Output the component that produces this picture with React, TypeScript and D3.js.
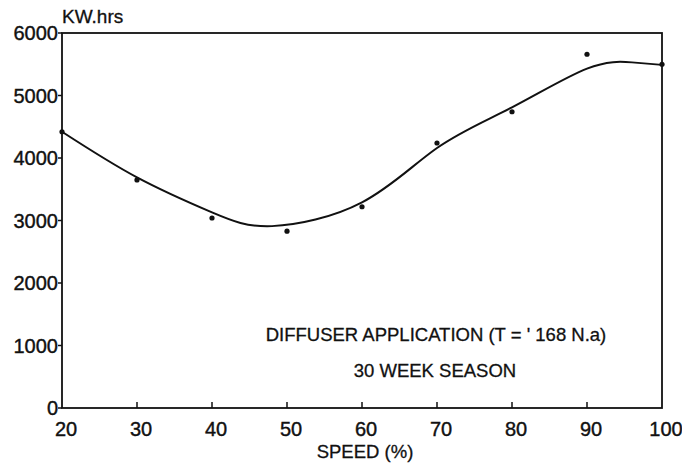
import React, { useEffect, useRef } from 'react';
import * as d3 from 'd3';

// measured points (speed %, kW.hrs)
const speeds = [20, 30, 40, 50, 60, 70, 80, 90, 100];
const kwh = [4420, 3650, 3040, 2830, 3220, 4240, 4740, 5660, 5500];

// smoothed fit drawn through the scatter
const fitSpeeds = [20, 30, 40, 48, 60, 70, 80, 90, 96, 100];
const fitKwh = [4420, 3690, 3130, 2910, 3290, 4160, 4810, 5430, 5530, 5490];

const xTicks = [20, 30, 40, 50, 60, 70, 80, 90, 100];
const yTicks = [0, 1000, 2000, 3000, 4000, 5000, 6000];

const width = 682;
const height = 466;
const margin = { left: 62, right: 20, top: 33, bottom: 58 };
const font = '"Liberation Sans", Arial, sans-serif';

function Chart() {
    const ref = useRef<SVGSVGElement>(null);

    useEffect(() => {
        document.body.style.margin = '0';
        const svg = d3.select(ref.current);
        svg.selectAll('*').remove();

        const x = d3.scaleLinear().domain([20, 100]).range([margin.left, width - margin.right]);
        const y = d3.scaleLinear().domain([0, 6000]).range([height - margin.bottom, margin.top]);

        const g = svg.append('g');

        // frame
        g.append('rect')
            .attr('x', x(20))
            .attr('y', y(6000))
            .attr('width', x(100) - x(20))
            .attr('height', y(0) - y(6000))
            .attr('fill', 'none')
            .attr('stroke', '#111')
            .attr('stroke-width', 1.8);

        // y ticks + labels
        g.selectAll('.ytick')
            .data(yTicks)
            .enter()
            .append('line')
            .attr('x1', x(20) - 4)
            .attr('x2', x(20))
            .attr('y1', d => y(d))
            .attr('y2', d => y(d))
            .attr('stroke', '#111')
            .attr('stroke-width', 1.5);

        g.selectAll('.ylab')
            .data(yTicks)
            .enter()
            .append('text')
            .attr('x', x(20) - 4)
            .attr('y', d => y(d) + 7)
            .attr('text-anchor', 'end')
            .attr('font-family', font)
            .attr('font-size', 20)
            .attr('fill', '#111')
            .attr('stroke', '#111')
            .attr('stroke-width', 0.4)
            .text(d => d);

        // x ticks (inward) + labels
        g.selectAll('.xtick')
            .data(xTicks.slice(1, -1))
            .enter()
            .append('line')
            .attr('x1', d => x(d))
            .attr('x2', d => x(d))
            .attr('y1', y(0))
            .attr('y2', y(0) - 6)
            .attr('stroke', '#111')
            .attr('stroke-width', 1.5);

        g.selectAll('.xlab')
            .data(xTicks)
            .enter()
            .append('text')
            .attr('x', d => x(d) + 4)
            .attr('y', y(0) + 28)
            .attr('text-anchor', 'middle')
            .attr('font-family', font)
            .attr('font-size', 20)
            .attr('fill', '#111')
            .attr('stroke', '#111')
            .attr('stroke-width', 0.4)
            .text(d => d);

        // fitted curve
        const line = d3.line<number>()
            .x((d, i) => x(fitSpeeds[i]))
            .y(d => y(d))
            .curve(d3.curveNatural);

        g.append('path')
            .datum(fitKwh)
            .attr('d', line)
            .attr('fill', 'none')
            .attr('stroke', '#111')
            .attr('stroke-width', 2);

        // points
        g.selectAll('.pt')
            .data(kwh)
            .enter()
            .append('circle')
            .attr('cx', (d, i) => x(speeds[i]))
            .attr('cy', d => y(d))
            .attr('r', 2.6)
            .attr('fill', '#111');

        // labels
        const label = (tx: number, ty: number, size: number, anchor: string, s: string) =>
            g.append('text')
                .attr('x', tx)
                .attr('y', ty)
                .attr('text-anchor', anchor)
                .attr('font-family', font)
                .attr('font-size', size)
                .attr('fill', '#111')
                .attr('stroke', '#111')
                .attr('stroke-width', 0.3)
                .text(s);

        label(x(20), 23, 19, 'start', 'KW.hrs');
        label(365, 458, 18.5, 'middle', 'SPEED (%)');
        label(436, 341, 18.5, 'middle', "DIFFUSER APPLICATION (T = ' 168 N.a)");
        label(435, 377, 18.5, 'middle', '30 WEEK SEASON');
    }, []);

    return <svg ref={ref} width={width} height={height} style={{ display: 'block' }} />;
}

export default function App() {
    return (
        <div style={{ position: 'absolute', left: 0, top: 0, width, height, background: '#fff' }}>
            <Chart />
        </div>
    );
}
